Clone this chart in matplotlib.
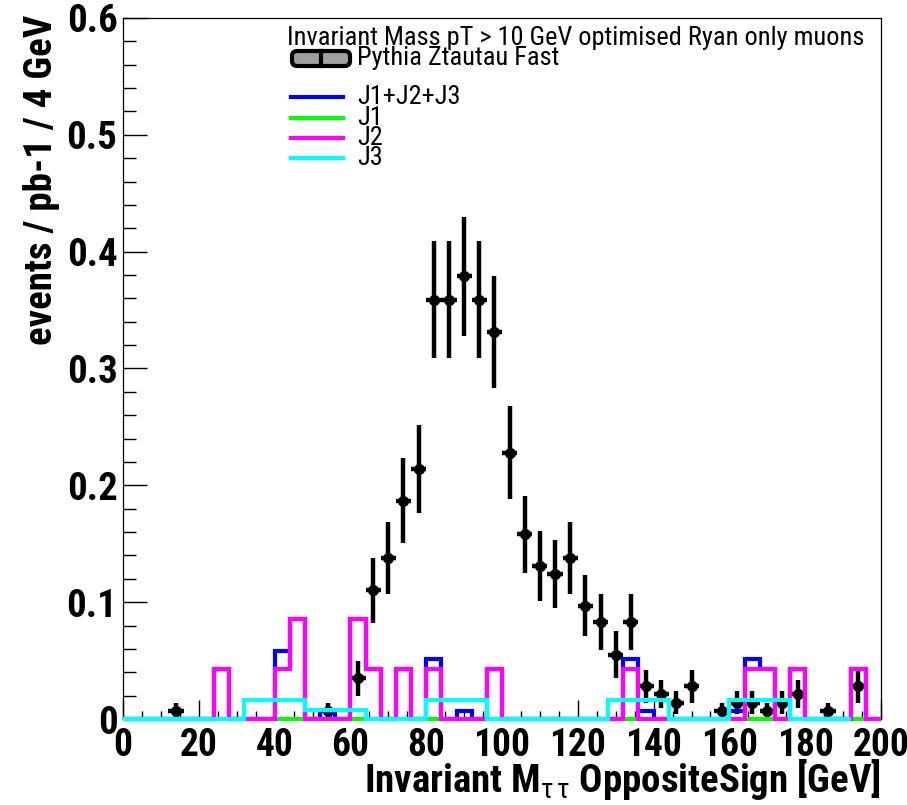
import numpy as np
import matplotlib
matplotlib.use('Agg')
import matplotlib.pyplot as plt
from matplotlib import font_manager
from matplotlib.patches import FancyBboxPatch
from matplotlib.lines import Line2D
from matplotlib.ticker import MultipleLocator, FixedLocator, FixedFormatter


def have_font(name):
    try:
        font_manager.findfont(font_manager.FontProperties(family=name),
                              fallback_to_default=False)
        return True
    except ValueError:
        return False


# narrow sans for the ROOT-style labels, if there is one
narrow = None
for cand in ['Liberation Sans Narrow', 'Arial Narrow', 'Roboto Condensed',
             'Open Sans Condensed', 'DejaVu Sans Condensed']:
    if have_font(cand):
        narrow = cand
        break
if narrow is None:
    narrow = 'Liberation Sans'
    big, small = 22, 16
else:
    big, small = 28, 19

plt.rcParams['font.family'] = [narrow, 'Liberation Sans', 'DejaVu Sans']
plt.rcParams['mathtext.fontset'] = 'custom'
plt.rcParams['mathtext.rm'] = narrow + ':bold'
plt.rcParams['mathtext.it'] = narrow
plt.rcParams['mathtext.bf'] = narrow + ':bold'

W, H = 907, 805

# data: Pythia Ztautau Fast, events / pb-1 per 4 GeV bin
data_mass = [14, 54, 62, 66, 70, 74, 78, 82, 86, 90, 94, 98, 102, 106, 110, 114,
             118, 122, 126, 130, 134, 138, 142, 146, 150, 158, 162, 166, 170, 174,
             178, 186, 194]
data_val = [0.007, 0.007, 0.035, 0.110, 0.138, 0.187, 0.214, 0.359, 0.359, 0.379,
            0.359, 0.331, 0.228, 0.158, 0.131, 0.124, 0.138, 0.097, 0.083, 0.055,
            0.083, 0.028, 0.021, 0.014, 0.028, 0.007, 0.014, 0.014, 0.007, 0.014,
            0.021, 0.007, 0.028]
data_err = [0.007, 0.007, 0.015, 0.028, 0.031, 0.036, 0.038, 0.050, 0.050, 0.051,
            0.050, 0.048, 0.040, 0.033, 0.030, 0.029, 0.031, 0.026, 0.024, 0.020,
            0.024, 0.014, 0.012, 0.010, 0.014, 0.007, 0.010, 0.010, 0.007, 0.010,
            0.012, 0.007, 0.014]

# background samples, 4 GeV bins from 0 to 200
edges4 = np.arange(0, 204, 4)
j_sum = [0, 0, 0, 0, 0, 0, 0.043, 0, 0, 0,
         0.058, 0.086, 0, 0.007, 0, 0.086, 0.043, 0, 0.043, 0,
         0.051, 0, 0.007, 0, 0.043, 0, 0, 0, 0, 0,
         0, 0, 0, 0.051, 0.007, 0, 0, 0, 0, 0,
         0.007, 0.051, 0.043, 0, 0.043, 0, 0, 0, 0.043, 0]
j1 = [0.0] * 50
j2 = [0, 0, 0, 0, 0, 0, 0.043, 0, 0, 0,
      0.043, 0.086, 0, 0, 0, 0.086, 0.043, 0, 0.043, 0,
      0.043, 0, 0, 0, 0.043, 0, 0, 0, 0, 0,
      0, 0, 0, 0.043, 0, 0, 0, 0, 0, 0,
      0, 0.043, 0.043, 0, 0.043, 0, 0, 0, 0.043, 0]
# J3 is stored in 16 GeV bins
edges16 = np.arange(0, 208, 16)
j3 = [0, 0, 0.016, 0.008, 0, 0.016, 0, 0, 0.016, 0, 0.016, 0]

fig = plt.figure(figsize=(W / 100, H / 100), dpi=100)
ax = fig.add_axes([123 / W, 1 - 719 / H, 758 / W, 701 / H])

ax.errorbar(data_mass, data_val, yerr=data_err, xerr=2, fmt='o', color='black',
            ms=7, elinewidth=3.2, capsize=0, zorder=2, clip_on=False)

hist_lw = 3
ax.stairs(j_sum, edges4, color='#0000ff', lw=hist_lw, zorder=3, clip_on=False)
ax.stairs(j1, edges4, color='#00ff00', lw=hist_lw, zorder=4, clip_on=False)
ax.stairs(j2, edges4, color='#ff00ff', lw=hist_lw, zorder=5, clip_on=False)
ax.stairs(j3, edges16, color='#00ffff', lw=hist_lw, zorder=6, clip_on=False)

ax.set_xlim(0, 200)
ax.set_ylim(0, 0.6)

for s in ax.spines.values():
    s.set_linewidth(0.9)

ax.xaxis.set_major_locator(MultipleLocator(20))
ax.xaxis.set_minor_locator(MultipleLocator(5))
yt = [0, 0.1, 0.2, 0.3, 0.4, 0.5, 0.6]
ax.yaxis.set_major_locator(FixedLocator(yt))
ax.yaxis.set_major_formatter(FixedFormatter(['0', '0.1', '0.2', '0.3', '0.4', '0.5', '0.6']))
ax.yaxis.set_minor_locator(MultipleLocator(0.02))
ax.tick_params(which='both', direction='in', width=1, top=False, right=False)
ax.tick_params(axis='x', which='major', length=14, pad=6, labelsize=big - 1)
ax.tick_params(axis='x', which='minor', length=6)
ax.tick_params(axis='y', which='major', length=17, pad=4, labelsize=big)
ax.tick_params(axis='y', which='minor', length=9)
for lab in ax.get_xticklabels() + ax.get_yticklabels():
    lab.set_fontweight('bold')

# axis titles, aligned to the axis ends
fig.text(881 / W, 1 - 779 / H, r'Invariant M$_{\tau\,\tau}$ OppositeSign [GeV]',
         ha='right', va='center', fontsize=big, fontweight='bold')
fig.text(42 / W, 1 - 15 / H, 'events / pb-1 / 4 GeV', rotation=90,
         ha='center', va='top', fontsize=big, fontweight='bold')

# legend block
fig.text(287 / W, 1 - 38 / H, 'Invariant Mass pT > 10 GeV optimised Ryan only muons',
         ha='left', va='center', fontsize=small)
box = FancyBboxPatch((292 / W, 1 - 66 / H), 58 / W, 15 / H,
                     boxstyle='round,pad=0,rounding_size=0.006',
                     transform=fig.transFigure, fc='#a0a0a0', ec='black', lw=3)
fig.add_artist(box)
fig.add_artist(Line2D([321 / W, 321 / W], [1 - 66 / H, 1 - 51 / H],
                      transform=fig.transFigure, color='black', lw=3))
fig.text(357 / W, 1 - 58 / H, 'Pythia Ztautau Fast', ha='left', va='center', fontsize=small)

entries = [('J1+J2+J3', '#0000ff', 97), ('J1', '#00ff00', 118),
           ('J2', '#ff00ff', 138), ('J3', '#00ffff', 158)]
for name, col, yy in entries:
    fig.add_artist(Line2D([291 / W, 343 / W], [1 - yy / H, 1 - yy / H],
                          transform=fig.transFigure, color=col, lw=3))
    fig.text(357 / W, 1 - yy / H, name, ha='left', va='center', fontsize=small)

fig.savefig('out.png', dpi=100)
